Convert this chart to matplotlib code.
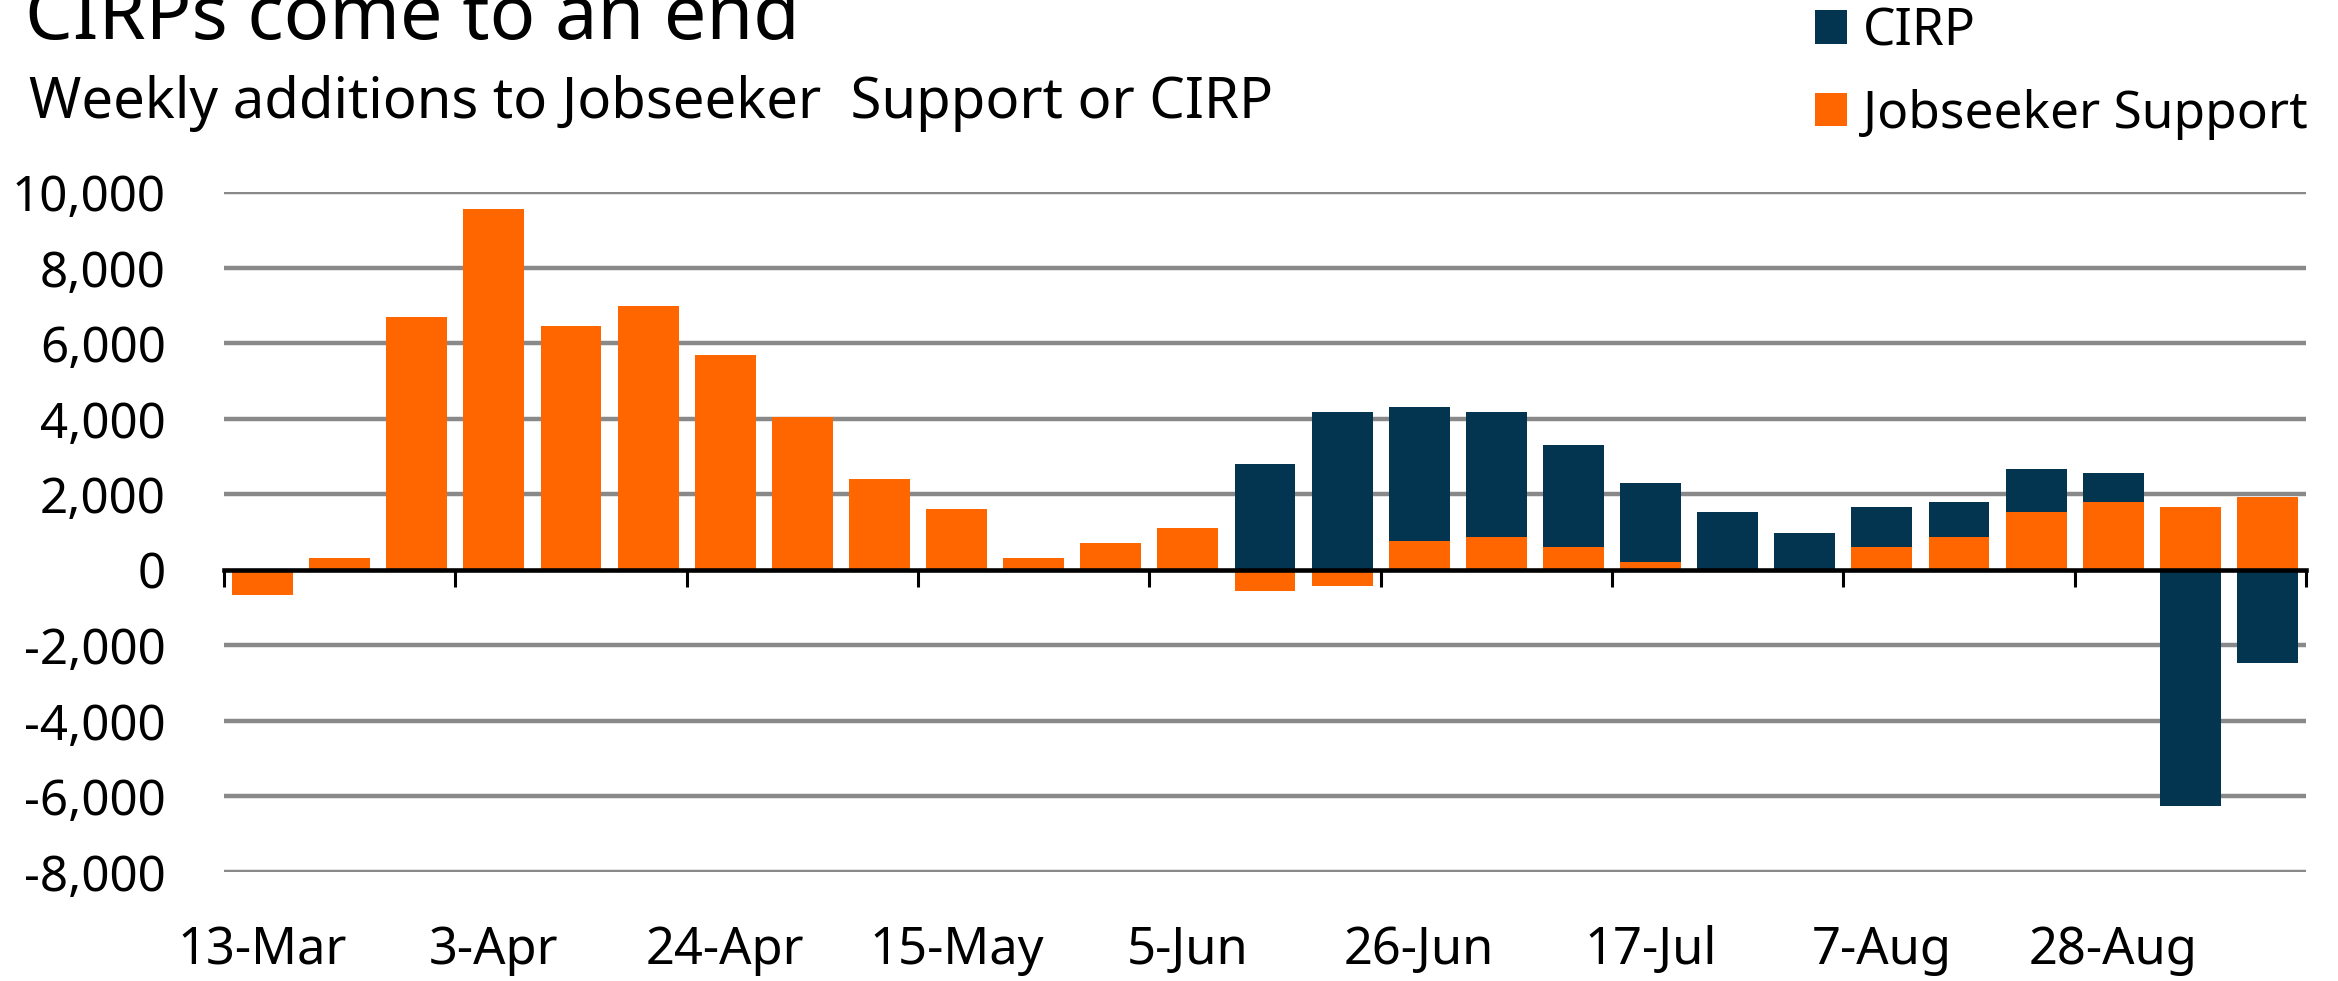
import matplotlib.pyplot as plt
import numpy as np
from matplotlib.ticker import FuncFormatter

# Weekly additions to Jobseeker Support or CIRP (week starting)
weeks = ['13-Mar', '20-Mar', '27-Mar', '3-Apr', '10-Apr', '17-Apr', '24-Apr',
         '1-May', '8-May', '15-May', '22-May', '29-May', '5-Jun', '12-Jun',
         '19-Jun', '26-Jun', '3-Jul', '10-Jul', '17-Jul', '24-Jul', '31-Jul',
         '7-Aug', '14-Aug', '21-Aug', '28-Aug', '4-Sep', '11-Sep']

jobseeker = np.array([-680, 320, 6700, 9550, 6450, 6980, 5680, 4050, 2400, 1620,
                      320, 720, 1100, -570, -440, 750, 870, 600, 200, 0,
                      0, 600, 870, 1520, 1790, 1650, 1920])
cirp = np.array([0, 0, 0, 0, 0, 0, 0, 0, 0, 0,
                 0, 0, 0, 2800, 4170, 3550, 3300, 2700, 2100, 1520,
                 980, 1050, 920, 1160, 760, -6260, -2470])

label_every = 3
yticks = np.arange(-8000, 10001, 2000)

orange = '#FF6600'
navy = '#033551'

plt.rcParams['font.family'] = ['Noto Sans', 'DejaVu Sans']

W, H = 2338, 981
fig = plt.figure(figsize=(W / 100, H / 100), dpi=100)
left, right, top, bottom = 224, 2306, 192, 872
ax = fig.add_axes([left / W, 1 - bottom / H, (right - left) / W, (bottom - top) / H])

x = np.arange(len(weeks))
# Excel-style stacking: positives stack up from 0, negatives down from 0
cirp_base = np.where((cirp >= 0) & (jobseeker > 0), jobseeker, 0)
cirp_base = np.where((cirp < 0) & (jobseeker < 0), jobseeker, cirp_base)

b_js = ax.bar(x, jobseeker, width=0.79, color=orange,
              label='Jobseeker Support', zorder=3)
b_cirp = ax.bar(x, cirp, bottom=cirp_base, width=0.79, color=navy,
                label='CIRP', zorder=3)

ax.set_xlim(-0.5, len(weeks) - 0.5)
ax.set_ylim(-8000, 10000)

# gridlines
for y in yticks:
    if y != 0:
        ax.axhline(y, color='#898989', linewidth=3.2, zorder=1)

for s in ['top', 'right', 'left']:
    ax.spines[s].set_visible(False)
ax.spines['bottom'].set_position(('data', 0))
ax.spines['bottom'].set_linewidth(3.3)
ax.spines['bottom'].set_color('black')
ax.spines['bottom'].set_zorder(4)

ax.set_yticks(yticks)
ax.yaxis.set_major_formatter(FuncFormatter(lambda v, p: f'{v:,.0f}'))
ax.tick_params(axis='y', length=0, pad=42, labelsize=35.5)

# tick marks between categories, labels every third week at the bottom
ax.set_xticks(np.arange(-0.5, len(weeks), label_every), minor=True)
ax.set_xticks(x[::label_every])
ax.set_xticklabels(weeks[::label_every])
ax.tick_params(axis='x', which='minor', length=12, width=2.2, direction='out', color='black')
ax.tick_params(axis='x', which='major', length=0, pad=256, labelsize=36.5)

fig.text(25 / W, 1 - 39 / H, 'CIRPs come to an end', fontsize=54.5, va='baseline', ha='left')
fig.text(29 / W, 1 - 118 / H, 'Weekly additions to Jobseeker  Support or CIRP',
         fontsize=40.5, va='baseline', ha='left')

fig.legend(handles=[b_cirp, b_js], labels=['CIRP', 'Jobseeker Support'],
           loc='upper left', bbox_to_anchor=(1815 / W, 1 - 6 / H), frameon=False,
           fontsize=37, handlelength=0.62, handleheight=0.62, handletextpad=0.32,
           labelspacing=0.62, borderpad=0, borderaxespad=0)

fig.savefig('out.png', dpi=100)
